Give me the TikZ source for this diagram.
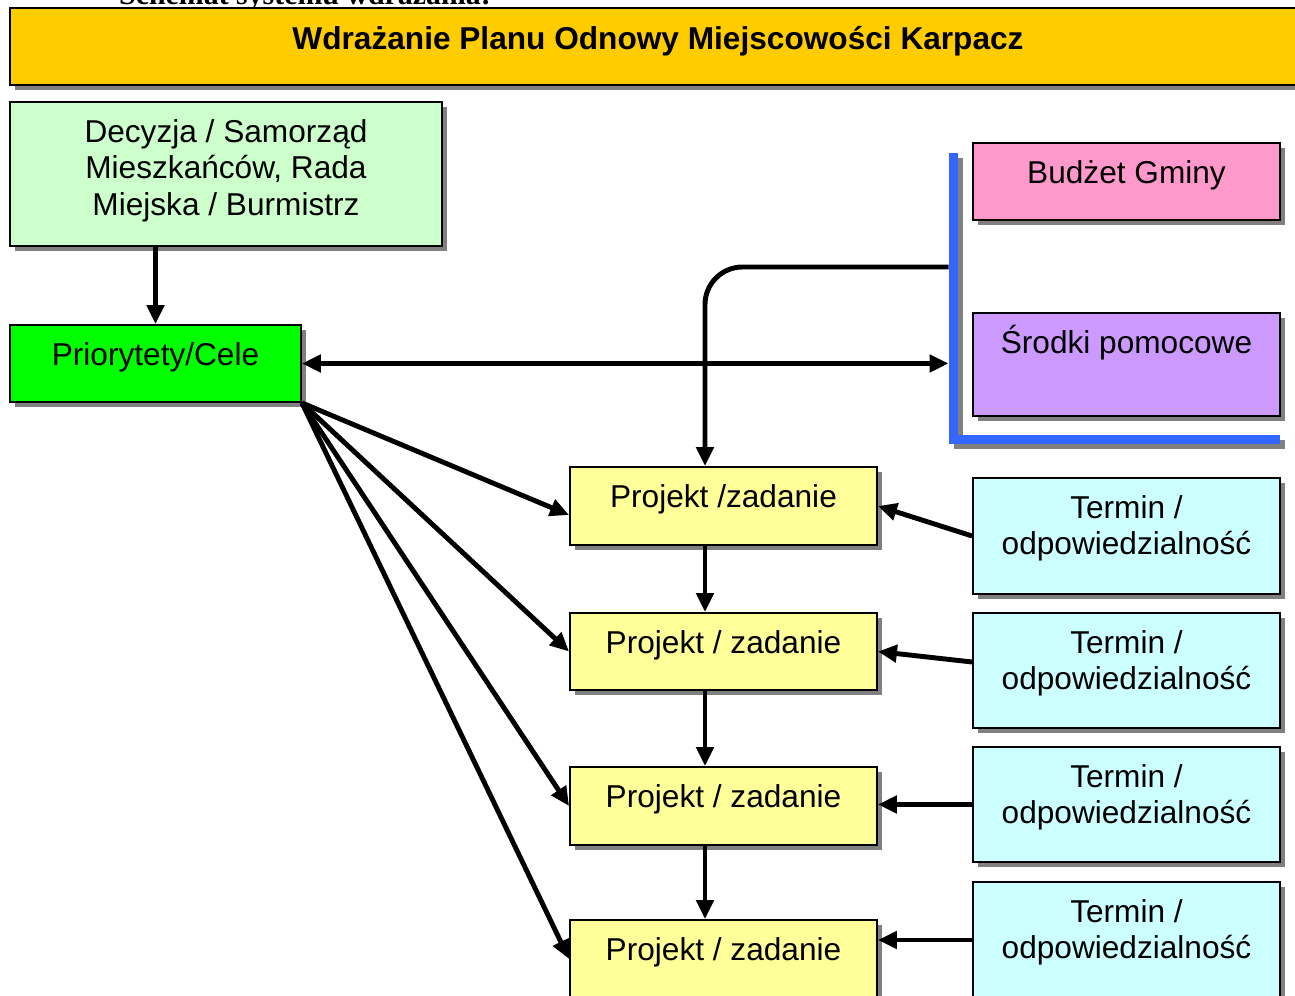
\documentclass[tikz,border=0pt]{standalone}
\usepackage{fontspec}
\setmainfont{Liberation Sans}
\newfontfamily\schematfont{Liberation Serif}
\usetikzlibrary{arrows.meta,shadows}
\definecolor{tytul}{HTML}{FFCC00}
\definecolor{decyzja}{HTML}{CCFFCC}
\definecolor{cele}{HTML}{00FF00}
\definecolor{budzet}{HTML}{FF99CC}
\definecolor{srodki}{HTML}{CC99FF}
\definecolor{projekt}{HTML}{FFFF99}
\definecolor{termin}{HTML}{CCFFFF}
\definecolor{klamra}{HTML}{3366FF}
\definecolor{cien}{HTML}{808080}

\begin{document}
\begin{tikzpicture}[x=0.02cm,y=-0.02cm,
  >={Triangle[length=0.38cm,width=0.34cm]},
  box/.style={draw=black,line width=1.1pt,minimum width=6.14cm,
    drop shadow={shadow xshift=0.1cm,shadow yshift=-0.1cm,fill=cien,opacity=1}},
  txt/.style={anchor=base,yshift=-0.82cm,align=center,inner sep=0pt,
    font=\fontsize{18}{21}\selectfont},
  arr/.style={->,line width=2.8pt}]
\useasboundingbox (0,0) rectangle (1295,996);

\node[anchor=base west,font=\schematfont\bfseries\fontsize{17}{20}\selectfont] (schemat) at (113,5) {Schemat systemu wdrażania:};

% naglowek
\node[box,fill=tytul,minimum width=26.4cm,minimum height=1.54cm,
  label={[txt,xshift=-0.24cm,yshift=-0.02cm,font=\fontsize{18}{21}\selectfont\bfseries]north:Wdrażanie Planu Odnowy Miejscowości Karpacz}] (tytul) at (670,46.5) {};

% lewa strona
\node[box,fill=decyzja,minimum width=8.64cm,minimum height=2.88cm,
  label={[txt,yshift=-42pt]north:Decyzja / Samorząd\\Mieszkańców, Rada\\Miejska / Burmistrz}] (dec) at (226,174) {};
\node[box,fill=cele,minimum width=5.82cm,minimum height=1.54cm,
  label={[txt]north:Priorytety/Cele}] (pri) at (155.5,363.5) {};

% srodki finansowe
\node[box,fill=budzet,minimum height=1.54cm,label={[txt]north:Budżet Gminy}] (bud) at (1126.5,181.5) {};
\node[box,fill=srodki,minimum height=2.06cm,label={[txt]north:Środki pomocowe}] (srd) at (1126.5,364.5) {};
\draw[cien,line width=0.18cm,line join=miter,shift={(5,5)}] (953,153) -- (953,440) -- (1280,440);
\draw[klamra,line width=0.18cm,line join=miter] (953,153) -- (953,440) -- (1280,440);
\coordinate (brk-mid) at (948.5,267);

% projekty
\node[box,fill=projekt,minimum height=1.56cm,label={[txt]north:Projekt /zadanie}] (p1) at (723.5,506) {};
\node[box,fill=projekt,minimum height=1.54cm,label={[txt]north:Projekt / zadanie}] (p2) at (723.5,651.5) {};
\node[box,fill=projekt,minimum height=1.56cm,label={[txt]north:Projekt / zadanie}] (p3) at (723.5,806) {};
\node[box,fill=projekt,minimum height=1.56cm,label={[txt]north:Projekt / zadanie}] (p4) at (723.5,959) {};

% terminy
\node[box,fill=termin,minimum height=2.32cm,label={[txt,yshift=-21pt]north:Termin /\\odpowiedzialność}] (t1) at (1126.5,536) {};
\node[box,fill=termin,minimum height=2.30cm,label={[txt,yshift=-21pt]north:Termin /\\odpowiedzialność}] (t2) at (1126.5,670.5) {};
\node[box,fill=termin,minimum height=2.30cm,label={[txt,yshift=-21pt]north:Termin /\\odpowiedzialność}] (t3) at (1126.5,804.5) {};
\node[box,fill=termin,minimum height=2.32cm,label={[txt,yshift=-21pt]north:Termin /\\odpowiedzialność}] (t4) at (1126.5,940) {};

% polaczenia
\draw[arr] (dec.south -| pri.north) -- (pri.north);
\draw[arr,<->] (pri.east) -- (pri.east -| brk-mid);
\draw[arr,rounded corners=0.75cm] (brk-mid) -| ([xshift=-0.37cm]p1.north);
\draw[arr] (pri.south east) -- ([yshift=-0.18cm]p1.west);
\draw[arr] (pri.south east) -- (p2.west);
\draw[arr] (pri.south east) -- (p3.west);
\draw[arr] (pri.south east) -- (p4.west);
\draw[arr] ([xshift=-0.37cm]p1.south) -- ([xshift=-0.37cm]p2.north);
\draw[arr] ([xshift=-0.37cm]p2.south) -- ([xshift=-0.37cm]p3.north);
\draw[arr] ([xshift=-0.37cm]p3.south) -- ([xshift=-0.37cm]p4.north);
\draw[arr] (t1.west) -- (p1.east);
\draw[arr] ([yshift=0.17cm]t2.west) -- (p2.east);
\draw[arr] (t3.west) -- (t3.west -| p3.east);
\draw[arr] (t4.west) -- (t4.west -| p4.east);
\end{tikzpicture}
\end{document}
